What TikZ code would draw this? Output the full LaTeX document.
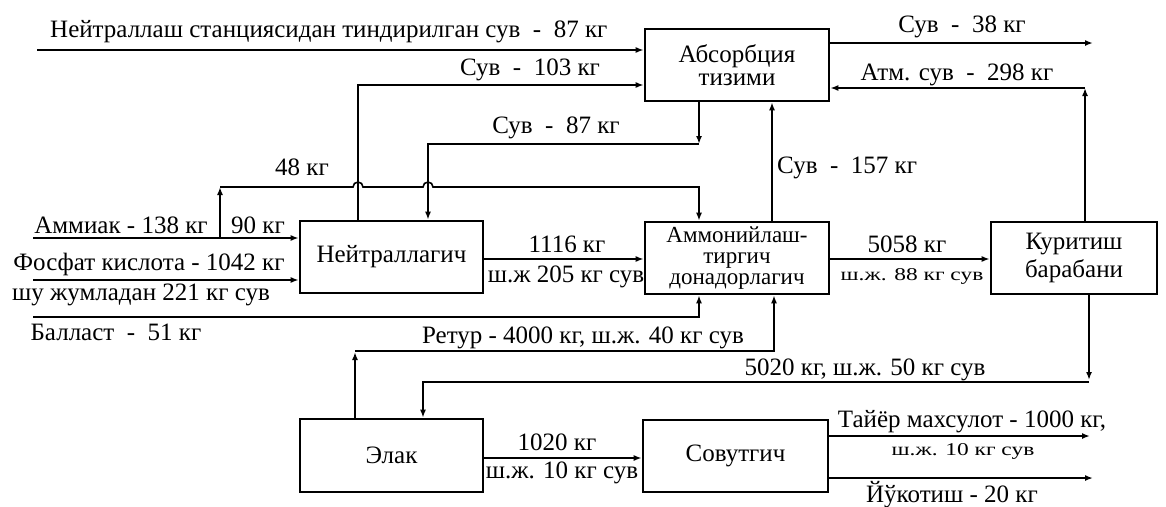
\documentclass[tikz,border=0pt]{standalone}
\usepackage{fontspec}
\usepackage{graphicx}
\setmainfont{Liberation Serif}
\usetikzlibrary{arrows.meta,calc}
\begin{document}
\begin{tikzpicture}[x=1pt,y=1pt,
  box/.style={draw, line width=2.6pt, align=center, inner sep=0pt,
    font=\fontsize{25}{23}\selectfont},
  ln/.style={line width=1.6pt},
  arr/.style={line width=1.6pt, -{Latex[length=8pt,width=6pt]}},
  lbl/.style={font=\fontsize{25}{27}\selectfont, inner sep=0pt, anchor=base},
  sm/.style={font=\fontsize{18}{20}\selectfont, inner sep=0pt, anchor=base}
]
\useasboundingbox (0,0) rectangle (1166,-506);

% boxes
\node[box, minimum width=184pt, minimum height=72pt] (abs) at (737,-65)
  {Абсорбция\\тизими};
\node[box, minimum width=183pt, minimum height=72pt] (neu) at (391.5,-257)
  {Нейтраллагич};
\node[box, minimum width=184pt, minimum height=72pt,
  font=\fontsize{23}{21}\selectfont] (amm) at (737,-258)
  {Аммонийлаш-\\тиргич\\донадорлагич};
\node[box, minimum width=166pt, minimum height=72pt] (kur) at (1074,-258)
  {Куритиш\\[4pt]барабани};
\node[box, minimum width=183pt, minimum height=73pt] (elak) at (391.5,-455.5)
  {Элак};
\node[box, minimum width=185pt, minimum height=72pt] (sov) at (735.5,-456)
  {Совутгич};

% coordinates
\coordinate (in87) at (37,-50);
\coordinate (p103) at (358,-85);
\coordinate (c87) at (699,-144);
\coordinate (c87b) at (428,-144);
\coordinate (am) at (33,-238);
\coordinate (a48) at (220,-238);
\coordinate (b48) at (220,-187);
\coordinate (fo) at (33,-280);
\coordinate (bal) at (33,-317);
\coordinate (ret) at (355,-352);
\coordinate (retc) at (355,-351);
\coordinate (retx) at (774,-351);
\coordinate (s157) at (772,0);
\coordinate (o38) at (1093,-43);
\coordinate (atm) at (1085,-88);
\coordinate (k50) at (1089,-380);
\coordinate (k50c) at (1089,-382);
\coordinate (e50) at (423,-382);
\coordinate (ty) at (1090,-436);
\coordinate (yo) at (1093,-478);

% connectors
\draw[arr] (in87) -- (abs.west |- in87);
\draw[arr] (neu.north -| p103) |- (abs.west |- p103);
\draw[arr] (abs.south -| c87) -- (c87);
\draw[arr] (c87) -- (c87b) -- (neu.north -| c87b);
\draw[arr] (am) -- (neu.west |- am);
\draw[arr] (a48) -- (b48);
\draw[arr] (b48) -- (353,-187) arc (180:0:5pt) -- (423,-187) arc (180:0:5pt)
  -- (c87 |- b48) -- (amm.north -| c87);
\draw[arr] (fo) -- (neu.west |- fo);
\draw[arr] (bal) -| (amm.south -| c87);
\draw[arr] (elak.north -| ret) -- (ret);
\draw[arr] (retc) -- (retx) -- (amm.south -| retx);
\draw[arr] (amm.north -| s157) -- (abs.south -| s157);
\draw[arr] (abs.east |- o38) -- (o38);
\draw[arr] (kur.north -| atm) -- (atm);
\draw[arr] (atm) -- (abs.east |- atm);
\draw[arr] (neu.east |- 0,-259) -- (amm.west |- 0,-259);
\draw[arr] (amm.east |- 0,-259) -- (kur.west |- 0,-259);
\draw[arr] (kur.south -| k50) -- (k50);
\draw[arr] (k50c) -- (e50) -- (elak.north -| e50);
\draw[arr] (elak.east |- 0,-458) -- (sov.west |- 0,-458);
\draw[arr] (sov.east |- ty) -- (ty);
\draw[arr] (sov.east |- yo) -- (yo);

% labels
\node[lbl, anchor=base west] (t1) at (50,-37) {Нейтраллаш станциясидан тиндирилган сув \ - \ 87 кг};
\node[lbl] (t2) at (530,-75) {Сув \ - \ 103 кг};
\node[lbl] (t3) at (556,-133) {Сув \ - \ 87 кг};
\node[lbl] (t4) at (302,-175) {48 кг};
\node[lbl] (t5) at (121,-233) {Аммиак - 138 кг};
\node[lbl] (t6) at (258,-233) {90 кг};
\node[lbl] (t7) at (149,-270) {Фосфат кислота - 1042 кг};
\node[lbl] (t8) at (141,-300) {шу жумладан 221 кг сув};
\node[lbl] (t9) at (116,-340) {Балласт \ - \ 51 кг};
\node[lbl] (t10) at (567,-252) {1116 кг};
\node[lbl] (t11) at (566,-282) {ш.ж 205 кг сув};
\node[lbl] (t12) at (583,-343) {Ретур - 4000 кг, ш.ж. 40 кг сув};
\node[lbl] (t13) at (907,-252) {5058 кг};
\node[sm] (t14) at (912,-280) {\scalebox{1.3}[1]{ш.ж. 88 кг сув}};
\node[lbl] (t15) at (865,-375) {5020 кг, ш.ж. 50 кг сув};
\node[lbl, anchor=base west] (t16) at (777,-173) {Сув \ - \ 157 кг};
\node[lbl] (t17) at (962,-32) {Сув \ - \ 38 кг};
\node[lbl] (t18) at (957,-80) {Атм. сув \ - \ 298 кг};
\node[lbl] (t19) at (557,-450) {1020 кг};
\node[lbl] (t20) at (562,-478) {ш.ж. 10 кг сув};
\node[lbl] (t21) at (972,-427) {Тайёр махсулот - 1000 кг,};
\node[sm] (t22) at (963,-455) {\scalebox{1.3}[1]{ш.ж. 10 кг сув}};
\node[lbl] (t23) at (952,-502) {Йўкотиш - 20 кг};
\end{tikzpicture}
\end{document}
